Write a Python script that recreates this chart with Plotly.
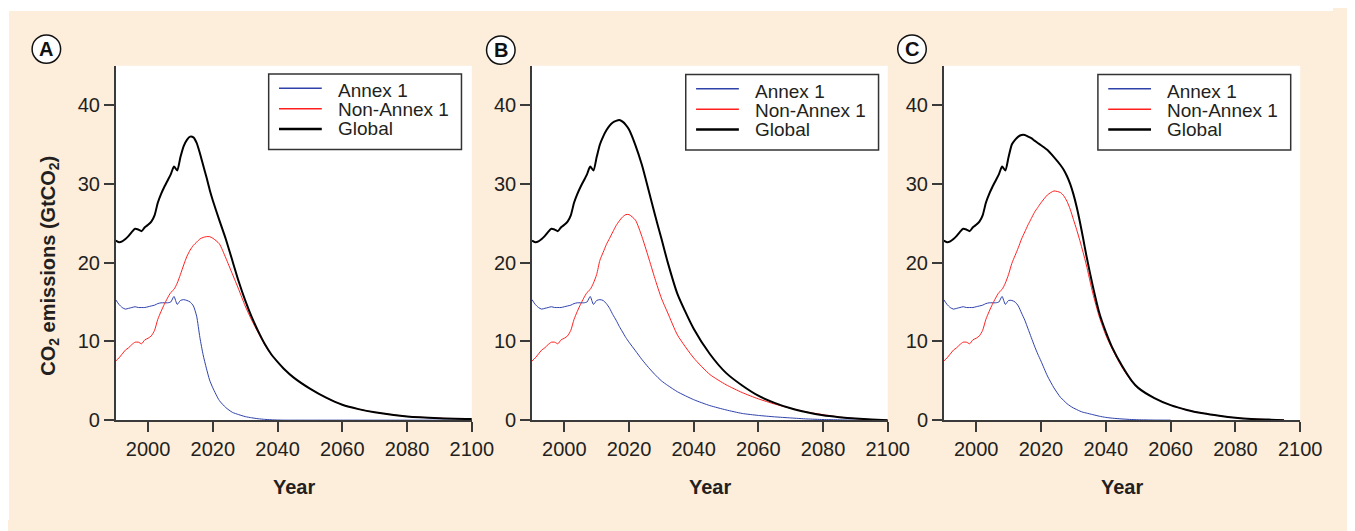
import plotly.graph_objects as go

# ---------------- data ----------------
years_hist = list(range(1990, 2011))
global_hist = [22.8, 22.6, 22.7, 23.0, 23.4, 23.9, 24.3, 24.2, 24.0, 24.5, 24.8,
               25.2, 26.0, 27.6, 28.7, 29.6, 30.4, 31.2, 32.2, 31.7, 33.4]
annex_hist = [15.3, 14.7, 14.3, 14.1, 14.2, 14.3, 14.4, 14.3, 14.3, 14.3, 14.4,
              14.5, 14.6, 14.8, 14.9, 14.9, 14.9, 15.0, 15.7, 14.7, 15.2]
nonannex_hist = [7.5, 7.9, 8.4, 8.9, 9.2, 9.6, 9.9, 9.9, 9.7, 10.2, 10.4,
                 10.7, 11.4, 12.8, 13.8, 14.7, 15.5, 16.2, 16.6, 17.4, 18.5]

years_A = [2011, 2012, 2013, 2014, 2015, 2016, 2017, 2018, 2019, 2020, 2022, 2024, 2026, 2028,
           2030, 2032, 2034, 2036, 2038, 2040, 2042, 2045, 2050, 2055, 2060, 2065, 2070, 2080,
           2090, 2100]
global_A = [34.8, 35.6, 36.0, 35.9, 35.2, 33.9, 32.4, 30.9, 29.3, 27.9, 25.4, 23.0, 20.3, 17.6,
            15.2, 13.1, 11.3, 9.7, 8.4, 7.4, 6.5, 5.4, 4.0, 2.85, 1.95, 1.4, 1.0, 0.47,
            0.25, 0.15]
annex_A = [15.3, 15.2, 15.0, 14.5, 13.2, 10.5, 8.3, 6.6, 5.1, 4.1, 2.5, 1.6, 1.0, 0.7,
           0.45, 0.3, 0.18, 0.1, 0.05, 0.02, 0, 0, 0, 0, 0, 0, 0, 0, 0, 0]
nonannex_A = [19.7, 20.8, 21.6, 22.2, 22.6, 23.0, 23.2, 23.3, 23.3, 23.1, 22.4, 20.6, 18.6, 16.6,
              14.5, 12.7, 11.1, 9.6, 8.35, 7.4, 6.5, 5.4, 4.0, 2.85, 1.95, 1.4, 1.0, 0.47,
              0.25, 0.15]

years_B = [2011, 2012, 2013, 2014, 2015, 2016, 2017, 2018, 2019, 2020, 2022, 2024, 2026, 2028, 2030,
           2032, 2035, 2040, 2045, 2050, 2055, 2060, 2065, 2070, 2075, 2080, 2085, 2090, 2095, 2100]
global_B = [35.0, 36.0, 36.8, 37.4, 37.8, 38.0, 38.1, 37.9, 37.5, 36.9, 34.9, 32.4, 29.3, 26.1, 23.1,
            20.0, 16.0, 11.6, 8.4, 6.0, 4.4, 3.1, 2.2, 1.5, 1.0, 0.62, 0.38, 0.2, 0.08, 0.0]
nonannex_B = [20.3, 21.3, 22.3, 23.1, 23.9, 24.7, 25.3, 25.8, 26.1, 26.1, 25.4, 23.3, 20.7, 18.0, 15.5,
              13.6, 10.8, 7.9, 5.8, 4.5, 3.5, 2.7, 2.05, 1.5, 1.03, 0.7, 0.4, 0.2, 0.08, 0.0]
annex_B = [15.3, 15.2, 14.8, 14.2, 13.4, 12.7, 11.9, 11.2, 10.5, 9.9, 8.8, 7.7, 6.7, 5.8, 5.0,
           4.4, 3.6, 2.6, 1.85, 1.3, 0.85, 0.6, 0.42, 0.28, 0.15, 0.08, 0.04, 0.0, 0.0, 0.0]

years_C = [2011, 2012, 2013, 2014, 2015, 2016, 2017, 2018, 2019, 2020, 2022, 2024, 2026, 2027, 2028,
           2029, 2030, 2031, 2032, 2033, 2034, 2036, 2038, 2040, 2042, 2045, 2048, 2050, 2055, 2060,
           2065, 2070, 2075, 2080, 2085, 2090, 2095]
global_C = [35.0, 35.6, 36.0, 36.2, 36.2, 36.0, 35.8, 35.5, 35.2, 34.9, 34.3, 33.4, 32.4, 31.8, 31.0,
            30.0, 28.7, 27.1, 25.2, 23.1, 20.9, 17.0, 13.6, 11.2, 9.2, 6.9, 5.0, 4.1, 2.8, 1.9,
            1.3, 0.87, 0.55, 0.3, 0.15, 0.07, 0.0]
nonannex_C = [19.9, 20.9, 21.9, 23.0, 23.9, 24.8, 25.6, 26.4, 27.0, 27.6, 28.6, 29.1, 28.9, 28.5, 27.8,
              26.8, 25.5, 24.2, 22.8, 21.3, 19.7, 16.1, 13.1, 10.8, 9.0, 6.7, 4.9, 4.05, 2.8, 1.9,
              1.3, 0.87, 0.55, 0.3, 0.15, 0.07, 0.0]
annex_C = [15.2, 15.0, 14.5, 13.6, 12.7, 11.6, 10.5, 9.4, 8.4, 7.5, 5.6, 4.1, 2.9, 2.5, 2.1,
           1.8, 1.55, 1.35, 1.15, 1.0, 0.9, 0.7, 0.5, 0.35, 0.25, 0.15, 0.08, 0.05, 0.01, 0.0,
           None, None, None, None, None, None, None]

series_names = ["Annex 1", "Non-Annex 1", "Global"]
panel_labels = ["A", "B", "C"]
x_ticks = [2000, 2020, 2040, 2060, 2080, 2100]
y_ticks = [0, 10, 20, 30, 40]

# ---------------- figure ----------------
# the page body places the figure 8 px from the window's top-left corner
OFF = 8
W, H = 1347, 523
FONT = "Liberation Sans, Arial, Helvetica, sans-serif"
PEACH = "#fdeddb"
AXC = "#3a3a3a"
TXT = "#231f20"


def fx(x):
    return (x - OFF) / W


def fy(y):
    return 1 - (y - OFF) / H


panels = [
    (years_A, annex_A, nonannex_A, global_A),
    (years_B, annex_B, nonannex_B, global_B),
    (years_C, annex_C, nonannex_C, global_C),
]
x_px = [(117.5, 479.5), (540.7, 902.3), (959.3, 1321.7)]
y_px = (67.0, 429.0)
legend_px = [(273, 75.5), (697, 76), (1116, 76)]
circle_px = [(47, 50), (509, 51), (927, 50)]

colors = ["#2f42aa", "#ff1f1f", "#000000"]
widths = [1.0, 1.0, 2.0]

fig = go.Figure()
for i, (yrs, an, na, gl) in enumerate(panels):
    xs = years_hist + yrs
    vals = [annex_hist + an, nonannex_hist + na, global_hist + gl]
    suffix = "" if i == 0 else str(i + 1)
    for name, v, c, w in zip(series_names, vals, colors, widths):
        fig.add_trace(go.Scatter(
            x=xs, y=v, mode="lines", name=name,
            line=dict(color=c, width=w, shape="spline", smoothing=0.6),
            xaxis="x" + suffix, yaxis="y" + suffix, showlegend=False,
        ))

layout = dict(
    width=W, height=H, autosize=False,
    margin=dict(l=0, r=0, t=0, b=0),
    paper_bgcolor=PEACH, plot_bgcolor="white",
    font=dict(family=FONT, color=TXT),
)
ydom = [fy(y_px[1]), fy(y_px[0])]
for i in range(3):
    suffix = "" if i == 0 else str(i + 1)
    x0, x1 = x_px[i]
    common = dict(ticks="outside", ticklen=10, tickwidth=1.5, tickcolor=AXC,
                  showline=True, linecolor=AXC, linewidth=1.5, showgrid=False,
                  zeroline=False, tickfont=dict(size=20, family=FONT, color=TXT))
    layout["xaxis" + suffix] = dict(domain=[fx(x0), fx(x1)], range=[1990, 2100],
                                    anchor="y" + suffix, tickvals=x_ticks, **common)
    layout["yaxis" + suffix] = dict(domain=ydom, range=[0, 45], anchor="x" + suffix,
                                    tickvals=y_ticks, **common)
fig.update_layout(**layout)

# white page edge at left and top
fig.add_shape(type="rect", xref="paper", yref="paper", x0=0, x1=fx(9), y0=0, y1=1,
              fillcolor="white", line_width=0, layer="above")
fig.add_shape(type="rect", xref="paper", yref="paper", x0=0, x1=1, y0=fy(11), y1=1,
              fillcolor="white", line_width=0, layer="above")

# legends (one per panel)
for i in range(3):
    lx, ly = legend_px[i]
    fig.add_shape(type="rect", xref="paper", yref="paper",
                  x0=fx(lx), x1=fx(lx + 196), y0=fy(ly + 77), y1=fy(ly),
                  fillcolor="white", line=dict(color="#333333", width=1.5), layer="above")
    for k, (name, c, w) in enumerate(zip(series_names, colors, widths)):
        ry_line = ly + [14.5, 35.5, 56][k]
        ry_text = ly + [17, 36.5, 56][k]
        fig.add_shape(type="line", xref="paper", yref="paper",
                      x0=fx(lx + 10.5), x1=fx(lx + 54), y0=fy(ry_line), y1=fy(ry_line),
                      line=dict(color=c, width=w + 0.5), layer="above")
        fig.add_annotation(x=fx(lx + 68), y=fy(ry_text), xref="paper", yref="paper",
                           text=name, showarrow=False, xanchor="left", yanchor="middle",
                           font=dict(size=19, family=FONT, color=TXT))

# panel labels
R = 14.5
for (cx, cy), lab in zip(circle_px, panel_labels):
    fig.add_shape(type="circle", xref="paper", yref="paper",
                  x0=fx(cx - R), x1=fx(cx + R), y0=fy(cy + R), y1=fy(cy - R),
                  fillcolor="white", line=dict(color="#111111", width=1.5), layer="above")
    fig.add_annotation(x=fx(cx), y=fy(cy), xref="paper", yref="paper",
                       text="<b>%s</b>" % lab, showarrow=False, xanchor="center", yanchor="middle",
                       font=dict(size=20, family=FONT, color="#111111"))

# axis titles
for i in range(3):
    x0, x1 = x_px[i]
    fig.add_annotation(x=fx((x0 + x1) / 2), y=fy(497), xref="paper", yref="paper",
                       text="<b>Year</b>", showarrow=False, xanchor="center", yanchor="middle",
                       font=dict(size=20, family=FONT, color=TXT))
fig.add_annotation(x=fx(50), y=fy(271), xref="paper", yref="paper",
                   text="<b>CO<sub>2</sub> emissions (GtCO<sub>2</sub>)</b>", textangle=-90,
                   showarrow=False, xanchor="center", yanchor="middle",
                   font=dict(size=20, family=FONT, color=TXT))

fig.write_html("out.html")
